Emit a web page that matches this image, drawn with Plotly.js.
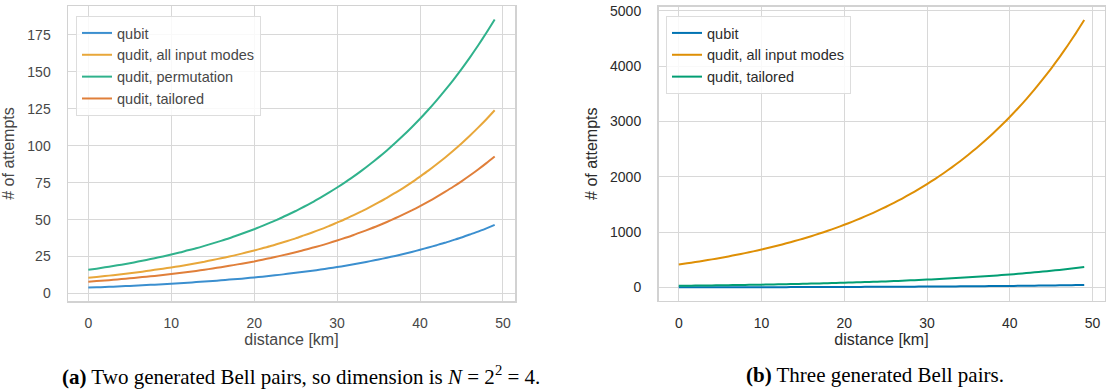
<!DOCTYPE html>
<html>
<head>
<meta charset="utf-8">
<script src="https://cdn.plot.ly/plotly-3.0.1.min.js"></script>
<style>html,body{margin:0;padding:0;background:#fff;}#chart{width:1110px;height:389px;}</style>
</head>
<body>
<div id="chart"></div>
<script>
// distance in km
const distance = [0,1,2,3,4,5,6,7,8,9,10,11,12,13,14,15,16,17,18,19,20,21,22,23,24,25,26,27,28,29,30,31,32,33,34,35,36,37,38,39,40,41,42,43,44,45,46,47,48,49];

// (a) Two generated Bell pairs
const aQubit = [4.0,4.2,4.4,4.6,4.9,5.1,5.4,5.7,6.0,6.3,6.6,6.9,7.3,7.7,8.1,8.5,8.9,9.4,9.8,10.3,10.9,11.4,12.0,12.6,13.3,14.0,14.7,15.4,16.2,17.1,17.9,18.8,19.8,20.8,21.9,23.0,24.2,25.4,26.7,28.1,29.6,31.1,32.7,34.3,36.1,37.9,39.9,41.9,44.1,46.4];
const aAllModes = [10.7,11.2,11.8,12.4,13.1,13.7,14.4,15.2,16.0,16.8,17.6,18.5,19.5,20.5,21.5,22.7,23.8,25.0,26.3,27.7,29.1,30.6,32.1,33.8,35.5,37.3,39.3,41.3,43.4,45.6,48.0,50.4,53.0,55.7,58.6,61.6,64.7,68.1,71.5,75.2,79.1,83.1,87.4,91.9,96.6,101.5,106.7,112.2,117.9,124.0];
const aPermutation = [16.0,16.8,17.7,18.6,19.5,20.5,21.6,22.7,23.9,25.1,26.4,27.7,29.2,30.6,32.2,33.9,35.6,37.4,39.4,41.4,43.5,45.7,48.1,50.5,53.1,55.8,58.7,61.7,64.9,68.2,71.7,75.4,79.2,83.3,87.6,92.1,96.8,101.8,107.0,112.5,118.2,124.3,130.7,137.4,144.4,151.8,159.6,167.8,176.4,185.4];
const aTailored = [8.0,8.4,8.8,9.3,9.8,10.3,10.8,11.4,11.9,12.5,13.2,13.9,14.6,15.3,16.1,16.9,17.8,18.7,19.7,20.7,21.7,22.9,24.0,25.3,26.6,27.9,29.4,30.9,32.4,34.1,35.9,37.7,39.6,41.7,43.8,46.0,48.4,50.9,53.5,56.2,59.1,62.1,65.3,68.7,72.2,75.9,79.8,83.9,88.2,92.7];

// (b) Three generated Bell pairs
const bQubit = [4.0,4.2,4.4,4.6,4.9,5.1,5.4,5.7,6.0,6.3,6.6,6.9,7.3,7.7,8.1,8.5,8.9,9.4,9.8,10.3,10.9,11.4,12.0,12.6,13.3,14.0,14.7,15.4,16.2,17.1,17.9,18.8,19.8,20.8,21.9,23.0,24.2,25.4,26.7,28.1,29.6,31.1,32.7,34.3,36.1,37.9,39.9,41.9,44.1,46.4];
const bAllModes = [417,438.4,460.9,484.5,509.3,535.4,562.9,591.8,622.1,654.0,687.5,722.8,759.8,798.8,839.8,882.8,928.0,975.6,1025.7,1078.2,1133.5,1191.7,1252.8,1317.0,1384.5,1455.5,1530.1,1608.5,1691.0,1777.7,1868.9,1964.7,2065.4,2171.3,2282.6,2399.7,2522.7,2652.0,2788.0,2931.0,3081.3,3239.2,3405.3,3579.9,3763.4,3956.4,4159.2,4372.5,4596.7,4832.3];
const bTailored = [32,33.6,35.4,37.2,39.1,41.1,43.2,45.4,47.7,50.2,52.8,55.5,58.3,61.3,64.4,67.7,71.2,74.9,78.7,82.7,87.0,91.4,96.1,101.1,106.2,111.7,117.4,123.4,129.8,136.4,143.4,150.8,158.5,166.6,175.2,184.1,193.6,203.5,213.9,224.9,236.5,248.6,261.3,274.7,288.8,303.6,319.2,335.5,352.7,370.8];

const seriesNames = ["qubit", "qudit, all input modes", "qudit, permutation", "qudit, tailored"];
const xLabel = "distance [km]";
const yLabel = "# of attempts";
const captionA = "<b>(a)</b> Two generated Bell pairs, so dimension is <i>N</i>&nbsp;=&nbsp;2<sup>2</sup>&nbsp;=&nbsp;4.";
const captionB = "<b>(b)</b> Three generated Bell pairs.";

const colA = ["#3b8fcf", "#e8a73a", "#30b28c", "#e07f3a"];
const colB = ["#0173b2", "#de8f05", "#029e73"];

const traces = [
  {x: distance, y: aQubit, name: seriesNames[0], line: {color: colA[0]}, xaxis: "x", yaxis: "y", legend: "legend"},
  {x: distance, y: aAllModes, name: seriesNames[1], line: {color: colA[1]}, xaxis: "x", yaxis: "y", legend: "legend"},
  {x: distance, y: aPermutation, name: seriesNames[2], line: {color: colA[2]}, xaxis: "x", yaxis: "y", legend: "legend"},
  {x: distance, y: aTailored, name: seriesNames[3], line: {color: colA[3]}, xaxis: "x", yaxis: "y", legend: "legend"},
  {x: distance, y: bQubit, name: seriesNames[0], line: {color: colB[0]}, xaxis: "x2", yaxis: "y2", legend: "legend2"},
  {x: distance, y: bAllModes, name: seriesNames[1], line: {color: colB[1]}, xaxis: "x2", yaxis: "y2", legend: "legend2"},
  {x: distance, y: bTailored, name: seriesNames[3], line: {color: colB[2]}, xaxis: "x2", yaxis: "y2", legend: "legend2"}
].map(t => Object.assign(t, {type: "scatter", mode: "lines",
  line: Object.assign(t.line, {width: 2, simplify: false, shape: "spline", smoothing: 0.6})}));

const W = 1110, H = 389;
const px = v => v / W, py = v => 1 - v / H;
const font = "Liberation Sans, Arial, sans-serif";
const GRID = "#d8d8d8";

function axisX(domain, color) {
  return {
    domain: domain, range: [-2.45, 51.45], tickvals: [0,10,20,30,40,50],
    showgrid: true, gridcolor: GRID, gridwidth: 1, zeroline: false,
    showline: true, linecolor: "#d2d2d2", linewidth: 1.5, mirror: true,
    ticks: "", ticklabelstandoff: 9,
    tickfont: {family: font, size: 14, color: color},
    title: {text: xLabel, font: {family: font, size: 16, color: color}, standoff: 3}
  };
}
function axisY(domain, range, tickvals, color) {
  return {
    domain: domain, range: range, tickvals: tickvals,
    showgrid: true, gridcolor: GRID, gridwidth: 1, zeroline: false,
    showline: true, linecolor: "#d2d2d2", linewidth: 1.5, mirror: true,
    ticks: "", ticklabelstandoff: 13,
    tickfont: {family: font, size: 14, color: color},
    title: {text: yLabel, font: {family: font, size: 16, color: color}, standoff: 8}
  };
}

const legendBase = {xanchor: "left", yanchor: "top", bgcolor: "rgba(255,255,255,0.85)",
  bordercolor: "#dddddd", borderwidth: 1, tracegroupgap: 0, itemwidth: 30};

const layout = {
  width: W, height: H,
  margin: {l: 0, r: 0, t: 0, b: 0},
  paper_bgcolor: "#fff", plot_bgcolor: "#fff",
  showlegend: true,
  xaxis: Object.assign(axisX([px(68), px(515)], "#474747"), {anchor: "y"}),
  yaxis: Object.assign(axisY([py(301), py(6)], [-5.07, 194.5], [0,25,50,75,100,125,150,175], "#474747"), {anchor: "x"}),
  xaxis2: Object.assign(axisX([px(658.5), px(1104.5)], "#2b2b2b"), {anchor: "y2"}),
  yaxis2: Object.assign(axisY([py(300.7), py(6.7)], [-237.4, 5073.7], [0,1000,2000,3000,4000,5000], "#2b2b2b"), {anchor: "x2"}),
  legend: Object.assign({x: px(76), y: py(16), font: {family: font, size: 14.5, color: "#474747"}}, legendBase),
  legend2: Object.assign({x: px(666), y: py(16), font: {family: font, size: 14.5, color: "#2b2b2b"}}, legendBase),
  annotations: [
    {text: captionA, xref: "paper", yref: "paper", x: px(301), y: py(375), xanchor: "center", yanchor: "middle",
     showarrow: false, font: {family: "Liberation Serif, Times New Roman, serif", size: 21, color: "#000"}},
    {text: captionB, xref: "paper", yref: "paper", x: px(875), y: py(375), xanchor: "center", yanchor: "middle",
     showarrow: false, font: {family: "Liberation Serif, Times New Roman, serif", size: 21, color: "#000"}}
  ]
};

Plotly.newPlot("chart", traces, layout, {displayModeBar: false, staticPlot: true});
</script>
</body>
</html>
